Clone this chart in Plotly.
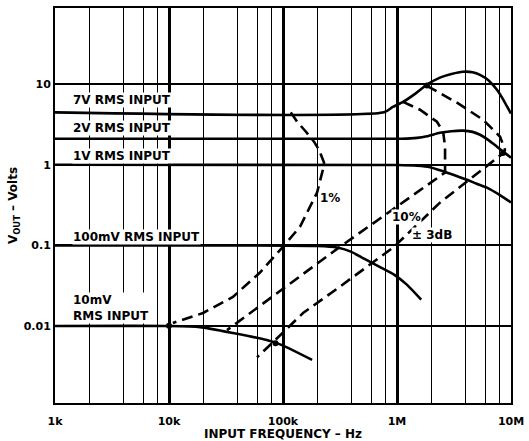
import math
import plotly.graph_objects as go

# ---- data ----
X_TICK_VALS = [1e3, 1e4, 1e5, 1e6, 1e7]
X_TICK_TEXT = ["1k", "10k", "100k", "1M", "10M"]
X_MINOR_VALS = [m * d for d in (1e3, 1e4, 1e5, 1e6) for m in (2, 4, 6, 8)]
Y_TICK_VALS = [0.01, 0.1, 1, 10]
Y_TICK_TEXT = ["0.01", "0.1", "1", "10"]

F_7V = [1e3, 7.7e5, 9.2e5, 1.13e6, 1.45e6, 1.83e6, 2.38e6, 3.0e6, 3.79e6, 4.6e6, 5.35e6, 6.4e6, 7.53e6, 8.5e6, 9.2e6, 1e7]
V_7V = [4.45, 4.45, 5.2, 6.0, 7.6, 9.8, 12.0, 13.3, 14.2, 14.0, 13.0, 11.0, 8.5, 6.5, 5.3, 4.3]

F_2V = [1e3, 1.1e6, 1.5e6, 1.83e6, 2.38e6, 3.0e6, 3.79e6, 4.6e6, 5.35e6, 6.4e6, 7.53e6, 8.7e6, 1e7]
V_2V = [2.1, 2.1, 2.15, 2.25, 2.48, 2.6, 2.64, 2.55, 2.35, 2.0, 1.67, 1.42, 1.22]

F_1V = [1e3, 1.0e6, 1.5e6, 1.95e6, 2.53e6, 3.2e6, 4.11e6, 5.0e6, 6.15e6, 8.0e6, 1e7]
V_1V = [1.0, 0.99, 0.97, 0.93, 0.83, 0.74, 0.65, 0.58, 0.52, 0.42, 0.34]

F_100MV = [1e3, 2.0e5, 2.98e5, 3.94e5, 5.14e5, 7.24e5, 9.42e5, 1.22e6, 1.63e6]
V_100MV = [0.1, 0.098, 0.094, 0.0835, 0.0685, 0.053, 0.0434, 0.0326, 0.0212]

F_10MV = [1e3, 1e4, 1.87e4, 3.64e4, 7.2e4, 9.8e4, 1.8e5]
V_10MV = [0.01, 0.01, 0.0097, 0.0082, 0.0067, 0.0058, 0.0038]

F_1PCT = [1.17e5, 1.33e5, 1.59e5, 1.87e5, 2.07e5, 2.29e5, 2.24e5, 1.99e5, 1.41e5, 1.0e5, 6.28e4, 3.64e4, 1.99e4, 1.08e4]
V_1PCT = [4.45, 3.41, 2.56, 1.93, 1.53, 1.06, 0.87, 0.45, 0.17, 0.096, 0.046, 0.023, 0.0145, 0.0109]

F_10PCT = [1.13e6, 1.59e6, 2.24e6, 2.54e6, 2.64e6, 2.64e6, 3.16e5, 3.23e4]
V_10PCT = [6.0, 4.8, 3.41, 2.56, 1.67, 0.80, 0.096, 0.0089]

F_3DB = [1.83e6, 3.36e6, 5.68e6, 8.02e6, 8.85e6, 8.5e6, 2.38e6, 9.42e5, 3.16e5, 1.5e5, 8.17e4, 5.92e4]
V_3DB = [9.5, 5.86, 3.61, 2.22, 1.53, 1.38, 0.338, 0.096, 0.0308, 0.0145, 0.0063, 0.0041]

# intersection dots seen on the reference
F_DOTS = [1e4, 1.83e6, 8.5e6, 8.6e4]
V_DOTS = [0.0101, 9.6, 1.4, 0.0061]

SOLID = [(F_7V, V_7V), (F_2V, V_2V), (F_1V, V_1V), (F_100MV, V_100MV), (F_10MV, V_10MV)]
DASHED = [(F_1PCT, V_1PCT), (F_10PCT, V_10PCT), (F_3DB, V_3DB)]

LABELS = [
    ("7V RMS INPUT", 1410, 6.35, "left"),
    ("2V RMS INPUT", 1410, 2.83, "left"),
    ("1V RMS INPUT", 1410, 1.29, "left"),
    ("100mV RMS INPUT", 1410, 0.128, "left"),
    ("10mV<br>RMS INPUT", 1410, 0.0165, "left"),
    ("1%", 2.6e5, 0.39, "center"),
    ("10%", 1.22e6, 0.227, "center"),
    ("± 3dB", 2.03e6, 0.136, "center"),
]

FONT = "DejaVu Sans"

fig = go.Figure()
for f, v in SOLID:
    fig.add_trace(go.Scatter(x=f, y=v, mode="lines", line=dict(color="black", width=2.6, shape="spline", smoothing=0.6),
                             hoverinfo="skip", showlegend=False))
for f, v in DASHED:
    fig.add_trace(go.Scatter(x=f, y=v, mode="lines", line=dict(color="black", width=2.6, dash="11px,6px"),
                             hoverinfo="skip", showlegend=False))
fig.add_trace(go.Scatter(x=F_DOTS, y=V_DOTS, mode="markers", marker=dict(color="black", size=6),
                         hoverinfo="skip", showlegend=False))

for text, x, y, align in LABELS:
    fig.add_annotation(x=math.log10(x), y=math.log10(y), xref="x", yref="y", text=text, showarrow=False,
                       xanchor="left" if align == "left" else "center", align="left",
                       bgcolor="white", borderpad=0,
                       font=dict(family=FONT, size=12, color="black", weight="bold"))

fig.update_xaxes(type="log", range=[3, 7], tickvals=X_TICK_VALS, ticktext=X_TICK_TEXT,
                 showgrid=True, gridcolor="black", gridwidth=2.6, zeroline=False,
                 showline=True, linecolor="black", linewidth=2, mirror=True, ticks="", ticklen=0,
                 ticklabelstandoff=7,
                 tickfont=dict(family=FONT, size=11, color="black", weight="bold"),
                 minor=dict(tickvals=X_MINOR_VALS, showgrid=True, gridcolor="black", gridwidth=1.4, ticks=""),
                 title=dict(text="INPUT FREQUENCY – Hz", standoff=0,
                            font=dict(family=FONT, size=12, color="black", weight="bold")))
fig.update_yaxes(type="log", range=[-2.954, 1.942], tickvals=Y_TICK_VALS, ticktext=Y_TICK_TEXT,
                 showgrid=True, gridcolor="black", gridwidth=1.6, zeroline=False,
                 showline=True, linecolor="black", linewidth=2, mirror=True, ticks="", ticklen=0,
                 ticklabelstandoff=0,
                 tickfont=dict(family=FONT, size=11, color="black", weight="bold"),
                 title=dict(text="V<sub>OUT</sub> – Volts", standoff=3,
                            font=dict(family=FONT, size=12, color="black", weight="bold")))

fig.update_layout(width=529, height=441, margin=dict(l=55, r=18, t=8, b=38, autoexpand=False),
                  paper_bgcolor="white", plot_bgcolor="white")

fig.write_html("out.html", config={"displayModeBar": False},
               post_script="document.body.style.margin='0';document.body.style.overflow='hidden';")
